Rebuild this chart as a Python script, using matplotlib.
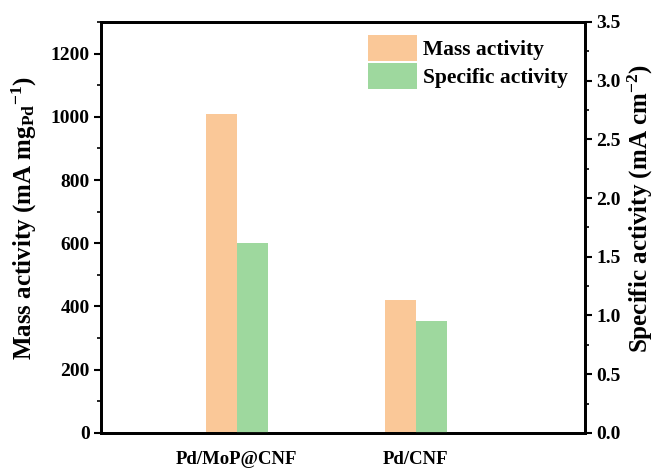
import numpy as np
import matplotlib
matplotlib.use("Agg")
import matplotlib.pyplot as plt
from matplotlib.ticker import MultipleLocator, FormatStrFormatter

# fonts: bold Times-like serif everywhere, math text too
plt.rcParams['font.family'] = 'Liberation Serif'
plt.rcParams['font.weight'] = 'bold'
plt.rcParams['axes.labelweight'] = 'bold'
plt.rcParams['mathtext.fontset'] = 'custom'
plt.rcParams['mathtext.rm'] = 'Liberation Serif:bold'
plt.rcParams['mathtext.it'] = 'Liberation Serif:bold'
plt.rcParams['mathtext.bf'] = 'Liberation Serif:bold'
plt.rcParams['mathtext.default'] = 'rm'

# data
catalysts = ['Pd/MoP@CNF', 'Pd/CNF']
mass_activity = [1010, 420]        # mA mg_Pd^-1
specific_activity = [1.62, 0.95]   # mA cm^-2

x = np.arange(1, len(catalysts) + 1)
w = 0.175

fig, ax = plt.subplots(figsize=(6.55, 4.68), dpi=100)
fig.subplots_adjust(left=0.154, right=0.893, top=0.953, bottom=0.075)
ax2 = ax.twinx()

b1 = ax.bar(x - w / 2, mass_activity, w, color='#fac898', label='Mass activity')
b2 = ax2.bar(x + w / 2, specific_activity, w, color='#9ed89e', label='Specific activity')

ax.set_xlim(0.24, 2.944)
ax.set_ylim(0, 1300)
ax2.set_ylim(0, 3.5)

ax.set_xticks(x)
ax.set_xticklabels(catalysts, fontsize=13.5)
ax.tick_params(axis='x', length=0, pad=13)

ax.yaxis.set_major_locator(MultipleLocator(200))
ax.yaxis.set_minor_locator(MultipleLocator(100))
ax2.yaxis.set_major_locator(MultipleLocator(0.5))
ax2.yaxis.set_minor_locator(MultipleLocator(0.25))
ax2.yaxis.set_major_formatter(FormatStrFormatter('%.1f'))

for a in (ax, ax2):
    a.tick_params(axis='y', which='major', length=5, width=1.5, labelsize=14, pad=3)
    a.tick_params(axis='y', which='minor', length=3, width=1.2)
    for s in a.spines.values():
        s.set_linewidth(2)

ax.set_ylabel('Mass activity (mA mg$_{Pd}$$^{-1}$)', fontsize=18)
ax2.set_ylabel('Specific activity (mA cm$^{-2}$)', fontsize=18)
ax.yaxis.set_label_coords(-0.128, 0.523)
ax2.yaxis.set_label_coords(1.085, 0.547)

ax.legend([b1, b2], ['Mass activity', 'Specific activity'], loc='upper right',
          bbox_to_anchor=(1.005, 1.015), frameon=False, fontsize=15.5,
          handlelength=2.3, handleheight=1.5, handletextpad=0.28, labelspacing=0.08)

plt.savefig('out.png', dpi=100)
